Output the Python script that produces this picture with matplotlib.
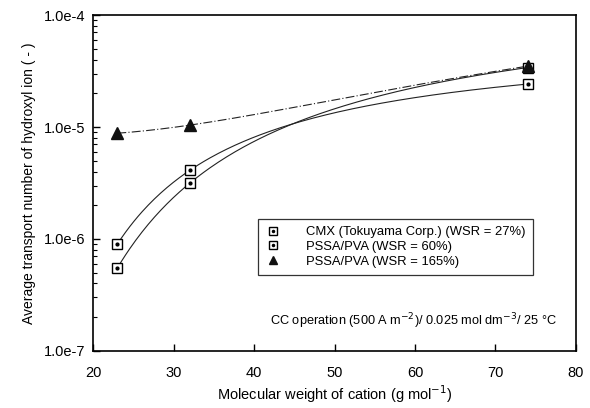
import numpy as np
import matplotlib
matplotlib.use("Agg")
import matplotlib.pyplot as plt
from matplotlib.lines import Line2D
from matplotlib.legend_handler import HandlerTuple
from matplotlib.ticker import FixedLocator, LogLocator, NullFormatter

plt.rcParams["font.family"] = ["Liberation Sans", "DejaVu Sans"]

# molecular weight of cation (g/mol)
mw = [23, 32, 74]
# average transport number of hydroxyl ion
cmx_27 = [5.5e-7, 3.15e-6, 3.4e-5]
pssa_60 = [9.0e-7, 4.1e-6, 2.42e-5]
pssa_165 = [8.8e-6, 1.04e-5, 3.5e-5]

labels = [
    "CMX (Tokuyama Corp.) (WSR = 27%)",
    "PSSA/PVA (WSR = 60%)",
    "PSSA/PVA (WSR = 165%)",
]

fig = plt.figure(figsize=(5.9, 4.08), dpi=100)
ax = fig.add_axes([0.158, 0.140, 0.818, 0.823])

x_fit = np.linspace(min(mw), max(mw), 200)


def fit_log_curve(y):
    # smooth curve: log10(y) as quadratic in 1/x
    inv = 1.0 / np.asarray(mw, dtype=float)
    coef = np.polyfit(inv, np.log10(y), 2)
    return 10 ** np.polyval(coef, 1.0 / x_fit)


def fit_lin_curve(y):
    coef = np.polyfit(mw, y, 2)
    return np.polyval(coef, x_fit)


ax.plot(x_fit, fit_log_curve(cmx_27), color="#222222", lw=0.8)
ax.plot(x_fit, fit_log_curve(pssa_60), color="#222222", lw=0.8)
ax.plot(x_fit, fit_lin_curve(pssa_165), color="#222222", lw=0.8,
        linestyle=(0, (8, 2, 1, 2)))

for y in (cmx_27, pssa_60):
    ax.plot(mw, y, "s", ms=7.5, mfc="white", mec="black", mew=1.0)
    ax.plot(mw, y, ".", ms=4, color="black")
ax.plot(mw, pssa_165, "^", ms=8, color="#111111")

ax.set_yscale("log")
ax.set_xlim(20, 80)
ax.set_ylim(1e-7, 1e-4)

ax.xaxis.set_major_locator(FixedLocator([20, 30, 40, 50, 60, 70, 80]))
ax.yaxis.set_major_locator(FixedLocator([1e-7, 1e-6, 1e-5, 1e-4]))
ax.set_yticklabels(["1.0e-7", "1.0e-6", "1.0e-5", "1.0e-4"])
ax.yaxis.set_minor_locator(LogLocator(base=10, subs=np.arange(2, 10)))
ax.yaxis.set_minor_formatter(NullFormatter())
ax.tick_params(axis="both", which="major", direction="in", length=5,
               labelsize=10.5, width=1)
ax.tick_params(axis="y", which="minor", direction="in", length=3, width=0.8)
ax.tick_params(axis="x", pad=11)
ax.tick_params(axis="y", pad=6)

for s in ax.spines.values():
    s.set_linewidth(1.2)

ax.set_xlabel("Molecular weight of cation (g mol$^{-1}$)", fontsize=10.5,
              labelpad=2)
ax.set_ylabel("Average transport number of hydroxyl ion ( - )", fontsize=10,
              labelpad=5)

sq = (Line2D([], [], marker="s", ms=5.5, mfc="white", mec="black", ls=""),
      Line2D([], [], marker=".", ms=3, color="black", ls=""))
tri = Line2D([], [], marker="^", ms=6, color="#111111", ls="")
leg = ax.legend([sq, sq, tri], labels,
                handler_map={tuple: HandlerTuple(ndivide=1, pad=0)},
                loc="upper left", bbox_to_anchor=(0.342, 0.393),
                borderaxespad=0, fontsize=9.4, frameon=True, fancybox=False,
                edgecolor="black", handlelength=1.2, handletextpad=1.9,
                borderpad=0.55, labelspacing=0.2)
leg.get_frame().set_linewidth(0.9)

ax.text(0.366, 0.088, "CC operation (500 A m$^{-2}$)/ 0.025 mol dm$^{-3}$/ 25 \u00b0C",
        transform=ax.transAxes, fontsize=9.2, va="center", ha="left")

fig.savefig("out.png", dpi=100)
